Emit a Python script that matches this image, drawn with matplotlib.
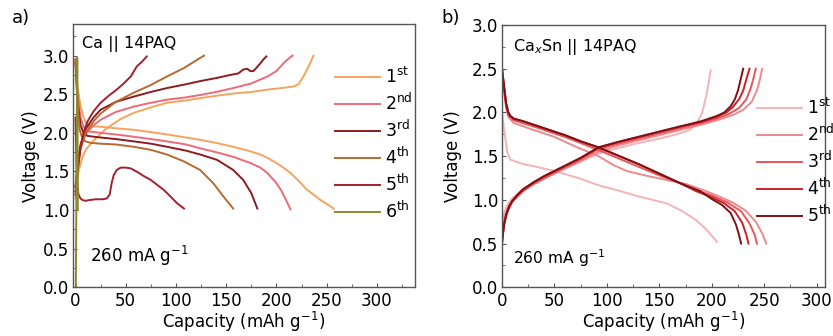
import matplotlib
matplotlib.use("Agg")
import matplotlib.pyplot as plt
from matplotlib.ticker import MultipleLocator

plt.rcParams['font.family'] = ['DejaVu Sans']
plt.rcParams['mathtext.fontset'] = 'dejavusans'

# ---------------- Panel a data: Ca || 14PAQ ----------------
a_labels = ["1$^{\\mathrm{st}}$", "2$^{\\mathrm{nd}}$", "3$^{\\mathrm{rd}}$",
            "4$^{\\mathrm{th}}$", "5$^{\\mathrm{th}}$", "6$^{\\mathrm{th}}$"]
a_colors = ['#F5A45E', '#EE6A78', '#8E1B22', '#B8692E', '#A3202E', '#8C8A2A']

a1_chg_x = [0, 1, 3, 6, 10, 18, 30, 45, 58, 75, 91, 110, 124, 140, 157, 175, 191, 205, 217, 222, 227, 232, 237]
a1_chg_v = [1.15, 1.3, 1.5, 1.65, 1.78, 1.9, 2.05, 2.18, 2.26, 2.33, 2.39, 2.42, 2.45, 2.48, 2.51, 2.53, 2.56, 2.58, 2.6, 2.63, 2.73, 2.86, 3.0]
a1_dis_x = [0, 2, 5, 8, 12, 25, 40, 58, 75, 91, 110, 124, 140, 157, 172, 184, 192, 200, 207, 214, 222, 230, 237, 244, 250, 257]
a1_dis_v = [2.95, 2.6, 2.35, 2.2, 2.09, 2.08, 2.06, 2.04, 2.01, 1.98, 1.94, 1.91, 1.87, 1.82, 1.77, 1.72, 1.67, 1.61, 1.55, 1.48, 1.38, 1.27, 1.2, 1.13, 1.08, 1.02]

a2_chg_x = [0, 2, 5, 10, 18, 25, 40, 58, 75, 91, 110, 124, 140, 157, 175, 191, 200, 207, 212, 216]
a2_chg_v = [1.3, 1.55, 1.8, 1.98, 2.1, 2.17, 2.27, 2.34, 2.39, 2.43, 2.46, 2.49, 2.53, 2.58, 2.64, 2.73, 2.8, 2.9, 2.96, 3.0]
a2_dis_x = [0, 2, 5, 8, 12, 25, 40, 58, 75, 91, 110, 124, 140, 157, 174, 184, 191, 200, 205, 210, 214]
a2_dis_v = [2.95, 2.5, 2.2, 2.08, 2.02, 2.0, 1.98, 1.95, 1.92, 1.89, 1.85, 1.8, 1.75, 1.69, 1.61, 1.55, 1.48, 1.35, 1.25, 1.12, 1.01]

a3_chg_x = [0, 2, 5, 10, 18, 25, 40, 58, 75, 91, 110, 124, 140, 154, 162, 167, 171, 174, 177, 180, 184, 187, 190]
a3_chg_v = [1.3, 1.6, 1.85, 2.05, 2.2, 2.3, 2.4, 2.47, 2.53, 2.58, 2.63, 2.67, 2.71, 2.75, 2.77, 2.82, 2.83, 2.8, 2.8, 2.84, 2.9, 2.95, 2.99]
a3_dis_x = [0, 2, 5, 8, 12, 25, 40, 58, 75, 91, 110, 124, 141, 157, 167, 175, 181]
a3_dis_v = [2.9, 2.4, 2.1, 2.0, 1.96, 1.94, 1.92, 1.89, 1.86, 1.82, 1.77, 1.72, 1.65, 1.52, 1.39, 1.22, 1.02]

a4_chg_x = [0, 2, 5, 10, 18, 25, 40, 58, 75, 91, 108, 124, 128]
a4_chg_v = [1.25, 1.5, 1.8, 2.0, 2.15, 2.25, 2.4, 2.52, 2.62, 2.73, 2.84, 2.97, 3.0]
a4_dis_x = [0, 2, 4, 7, 10, 15, 25, 40, 58, 75, 91, 108, 124, 137, 147, 152, 157]
a4_dis_v = [2.95, 2.4, 2.05, 1.92, 1.89, 1.87, 1.86, 1.85, 1.82, 1.78, 1.72, 1.63, 1.52, 1.35, 1.18, 1.1, 1.02]

a5_chg_x = [0, 2, 5, 8, 12, 18, 25, 33, 41, 48, 55, 61, 66, 71]
a5_chg_v = [1.2, 1.5, 1.8, 2.0, 2.15, 2.28, 2.39, 2.48, 2.56, 2.64, 2.73, 2.86, 2.92, 2.99]
a5_dis_x = [0, 1, 2, 3, 5, 7, 10, 14, 20, 27, 31, 34, 36, 38, 41, 45, 50, 55, 62, 68, 75, 81, 88, 95, 101, 105, 108]
a5_dis_v = [2.2, 1.6, 1.3, 1.2, 1.15, 1.13, 1.12, 1.13, 1.14, 1.14, 1.15, 1.2, 1.35, 1.45, 1.52, 1.55, 1.55, 1.54, 1.49, 1.44, 1.39, 1.33, 1.26, 1.17, 1.09, 1.05, 1.02]

a6_chg_x = [0.3, 0.6, 1.0, 1.4, 1.7]
a6_chg_v = [0.0, 0.5, 1.5, 2.4, 2.97]
a6_dis_x = [1.8, 2.0, 2.2, 2.3]
a6_dis_v = [2.95, 2.2, 1.4, 1.0]

a_chg = [(a1_chg_x, a1_chg_v), (a2_chg_x, a2_chg_v), (a3_chg_x, a3_chg_v),
         (a4_chg_x, a4_chg_v), (a5_chg_x, a5_chg_v), (a6_chg_x, a6_chg_v)]
a_dis = [(a1_dis_x, a1_dis_v), (a2_dis_x, a2_dis_v), (a3_dis_x, a3_dis_v),
         (a4_dis_x, a4_dis_v), (a5_dis_x, a5_dis_v), (a6_dis_x, a6_dis_v)]

# ---------------- Panel b data: CaxSn || 14PAQ ----------------
b_labels = ["1$^{\\mathrm{st}}$", "2$^{\\mathrm{nd}}$", "3$^{\\mathrm{rd}}$",
            "4$^{\\mathrm{th}}$", "5$^{\\mathrm{th}}$"]
b_colors = ['#F4B3B6', '#EC8A8E', '#E8555A', '#CC2027', '#7E1016']

b1_chg_x = [0, 2, 5, 10, 20, 30, 45, 60, 75, 92, 110, 130, 150, 170, 179, 186, 191, 195, 199]
b1_chg_v = [0.75, 0.85, 0.94, 1.02, 1.12, 1.19, 1.28, 1.36, 1.44, 1.53, 1.59, 1.65, 1.7, 1.76, 1.8, 1.88, 2.0, 2.2, 2.48]
b1_dis_x = [0, 2, 5, 8, 20, 36, 50, 70, 94, 110, 130, 157, 172, 185, 195, 205]
b1_dis_v = [2.0, 1.8, 1.55, 1.46, 1.41, 1.37, 1.33, 1.26, 1.16, 1.11, 1.04, 0.96, 0.87, 0.77, 0.66, 0.52]

b2_chg_x = [0, 2, 5, 10, 20, 30, 45, 60, 75, 92, 110, 130, 150, 170, 190, 205, 220, 230, 238, 243, 246, 248]
b2_chg_v = [0.65, 0.78, 0.9, 1.0, 1.1, 1.18, 1.27, 1.36, 1.44, 1.55, 1.62, 1.68, 1.74, 1.8, 1.86, 1.91, 1.97, 2.03, 2.12, 2.25, 2.38, 2.5]
b2_dis_x = [0, 3, 6, 11, 30, 50, 70, 92, 106, 119, 140, 160, 176, 190, 205, 220, 232, 242, 248, 252]
b2_dis_v = [2.45, 2.15, 1.95, 1.88, 1.8, 1.72, 1.61, 1.5, 1.4, 1.33, 1.27, 1.22, 1.18, 1.12, 1.05, 0.97, 0.88, 0.75, 0.62, 0.5]

b3_chg_x = [0, 2, 5, 10, 20, 30, 45, 60, 75, 92, 110, 130, 150, 170, 190, 205, 216, 226, 233, 237, 240, 242]
b3_chg_v = [0.55, 0.72, 0.86, 0.98, 1.1, 1.18, 1.28, 1.37, 1.46, 1.58, 1.64, 1.7, 1.76, 1.82, 1.88, 1.93, 1.98, 2.05, 2.15, 2.27, 2.4, 2.5]
b3_dis_x = [0, 2, 4, 6, 11, 30, 45, 60, 75, 92, 110, 130, 150, 170, 185, 200, 215, 228, 236, 241, 243]
b3_dis_v = [2.5, 2.25, 2.05, 1.97, 1.91, 1.84, 1.78, 1.72, 1.65, 1.57, 1.48, 1.38, 1.28, 1.19, 1.11, 1.05, 0.97, 0.87, 0.73, 0.6, 0.5]

b4_chg_x = [0, 1, 2, 4, 7, 10, 15, 20, 30, 40, 50, 60, 75, 92, 110, 130, 150, 170, 190, 205, 214, 220, 226, 230, 233, 236]
b4_chg_v = [0.5, 0.62, 0.72, 0.83, 0.93, 0.99, 1.06, 1.12, 1.2, 1.27, 1.33, 1.39, 1.48, 1.6, 1.66, 1.72, 1.78, 1.84, 1.89, 1.95, 2.0, 2.06, 2.15, 2.25, 2.38, 2.5]
b4_dis_x = [0, 2, 4, 6, 8, 11, 20, 30, 45, 60, 75, 92, 110, 130, 150, 170, 185, 200, 212, 222, 229, 233, 235]
b4_dis_v = [2.5, 2.3, 2.1, 2.0, 1.96, 1.93, 1.9, 1.86, 1.8, 1.74, 1.67, 1.6, 1.51, 1.41, 1.3, 1.19, 1.1, 1.03, 0.96, 0.87, 0.74, 0.6, 0.5]

b5_chg_x = [0, 1, 2, 4, 7, 10, 15, 20, 30, 40, 50, 60, 75, 92, 110, 130, 150, 170, 190, 205, 212, 218, 222, 225, 228, 230]
b5_chg_v = [0.5, 0.62, 0.72, 0.83, 0.93, 0.99, 1.06, 1.12, 1.2, 1.27, 1.33, 1.39, 1.48, 1.6, 1.66, 1.72, 1.78, 1.84, 1.9, 1.96, 2.0, 2.07, 2.15, 2.25, 2.4, 2.5]
b5_dis_x = [0, 2, 4, 6, 8, 11, 20, 30, 45, 60, 75, 92, 110, 130, 150, 170, 189, 200, 210, 218, 223, 226, 228]
b5_dis_v = [2.5, 2.3, 2.1, 2.0, 1.96, 1.93, 1.9, 1.86, 1.8, 1.74, 1.67, 1.6, 1.51, 1.41, 1.3, 1.19, 1.1, 1.01, 0.94, 0.85, 0.72, 0.6, 0.5]

b_chg = [(b1_chg_x, b1_chg_v), (b2_chg_x, b2_chg_v), (b3_chg_x, b3_chg_v),
         (b4_chg_x, b4_chg_v), (b5_chg_x, b5_chg_v)]
b_dis = [(b1_dis_x, b1_dis_v), (b2_dis_x, b2_dis_v), (b3_dis_x, b3_dis_v),
         (b4_dis_x, b4_dis_v), (b5_dis_x, b5_dis_v)]

x_ticks = [0, 50, 100, 150, 200, 250, 300]
y_ticks = [0.0, 0.5, 1.0, 1.5, 2.0, 2.5, 3.0]

FS = 12
SPINE = '#555555'

fig = plt.figure(figsize=(8.33, 3.36), dpi=100)
axa = fig.add_axes([73/833, 1-287.3/336, (415-73)/833, (287.3-24)/336])
axb = fig.add_axes([502/833, 1-287.3/336, (825-502)/833, (287.3-25)/336])


def style(ax, xlim, ylim, ylabelpad):
    ax.set_xlim(*xlim)
    ax.set_ylim(*ylim)
    ax.set_xticks(x_ticks)
    ax.set_yticks(y_ticks)
    ax.set_yticklabels([f"{v:.1f}" for v in y_ticks])
    ax.xaxis.set_minor_locator(MultipleLocator(25))
    ax.yaxis.set_minor_locator(MultipleLocator(0.25))
    ax.tick_params(which='both', direction='in', labelsize=FS, color=SPINE)
    ax.tick_params(axis='x', which='major', pad=3.5)
    ax.tick_params(axis='y', which='major', pad=2.5)
    ax.tick_params(which='major', length=3)
    ax.tick_params(which='minor', length=2)
    for s in ax.spines.values():
        s.set_color(SPINE)
        s.set_linewidth(1.0)
    ax.set_xlabel("Capacity (mAh g$^{-1}$)", fontsize=FS, labelpad=0)
    ax.set_ylabel("Voltage (V)", fontsize=FS, labelpad=ylabelpad)


# Panel a
handles = []
for (cx, cv), (dx, dv), c, lab in zip(a_chg, a_dis, a_colors, a_labels):
    h, = axa.plot(cx, cv, color=c, lw=1.4, label=lab)
    axa.plot(dx, dv, color=c, lw=1.4)
    handles.append(h)
style(axa, (-2.5, 338), (0, 3.41), 2)
axa.legend(handles=handles, loc='upper left', bbox_to_anchor=(0.766, 0.836),
           frameon=False, fontsize=FS + 0.5, handlelength=2.6, handletextpad=0.3,
           labelspacing=0.33, borderpad=0, borderaxespad=0)
axa.text(0.025, 0.955, "Ca || 14PAQ", transform=axa.transAxes, fontsize=FS - 0.5,
         va='top', ha='left')
axa.text(0.05, 0.12, "260 mA g$^{-1}$",
         transform=axa.transAxes, fontsize=FS, va='center', ha='left')

# Panel b
handles = []
for (cx, cv), (dx, dv), c, lab in zip(b_chg, b_dis, b_colors, b_labels):
    h, = axb.plot(cx, cv, color=c, lw=1.4, label=lab)
    axb.plot(dx, dv, color=c, lw=1.4)
    handles.append(h)
style(axb, (0, 308), (0, 3.0), 7)
axb.legend(handles=handles, loc='upper left', bbox_to_anchor=(0.788, 0.722),
           frameon=False, fontsize=FS + 0.5, handlelength=2.6, handletextpad=0.3,
           labelspacing=0.33, borderpad=0, borderaxespad=0)
axb.text(0.035, 0.955, "Ca$_x$Sn || 14PAQ", transform=axb.transAxes, fontsize=FS - 0.5,
         va='top', ha='left')
axb.text(0.035, 0.11, "260 mA g$^{-1}$", transform=axb.transAxes, fontsize=FS - 0.8,
         va='center', ha='left')

fig.text(12/833, 1-18/336, "a)", fontsize=FS + 1, va='center', ha='left')
fig.text(441/833, 1-18/336, "b)", fontsize=FS + 1, va='center', ha='left')

fig.savefig("out.png", dpi=100)
